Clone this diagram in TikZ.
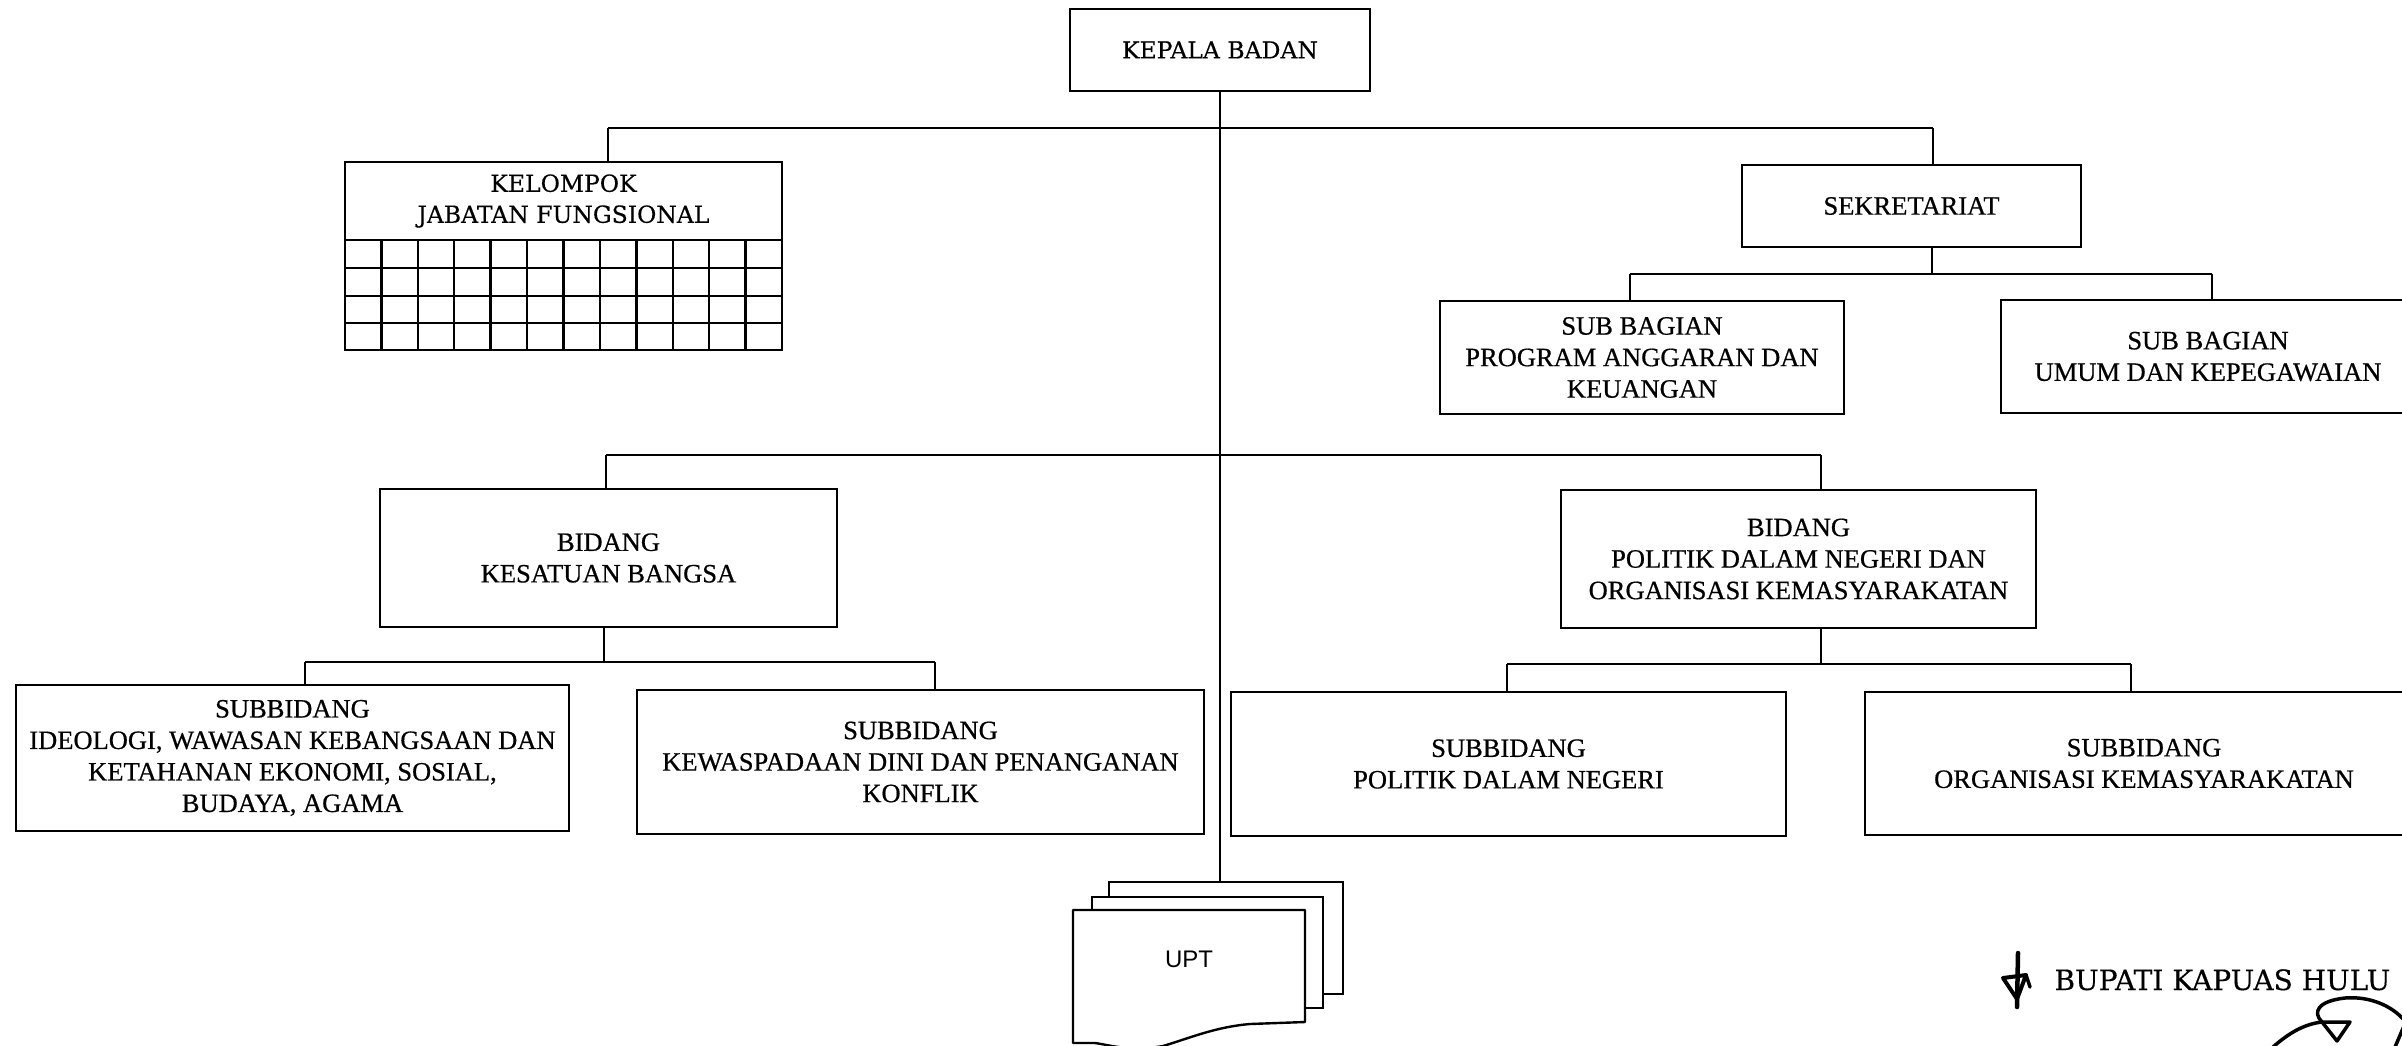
\documentclass[tikz,border=0pt]{standalone}
\usepackage{fontspec}
\setmainfont{Liberation Serif}
\newfontfamily\boxfont{Liberation Serif}[FakeBold=0.6]
\newfontfamily\headfont{DejaVu Serif}[FakeBold=0.4]
\newfontfamily\uptfont{Liberation Sans}
\begin{document}
\begin{tikzpicture}[x=1pt,y=-1pt,
  box/.style={draw, line width=2.6pt, rectangle, align=center, inner sep=0pt,
    font=\boxfont\fontsize{26.5}{31.5}\selectfont},
  headbox/.style={box, font=\headfont\fontsize{23.5}{31}\selectfont},
  conn/.style={line width=2.4pt},
  gridline/.style={line width=2.4pt},
  page/.style={draw, fill=white, line width=2.4pt, rectangle, inner sep=0pt}]
\useasboundingbox (0,0) rectangle (2402,1045);
\clip (0,0) rectangle (2402,1045);

% top
\node[headbox, minimum width=300, minimum height=82] (kb) at (1220,50) {KEPALA BADAN};

% kelompok jabatan fungsional
\node[headbox, minimum width=437, minimum height=78] (kjf) at (563.5,201) {KELOMPOK\\JABATAN FUNGSIONAL};
\draw[gridline] (345,240) rectangle (782,350);
\foreach \i in {1,...,11} \draw[gridline] ({345+\i*36.42},240) -- ({345+\i*36.42},350);
\foreach \yy in {268,296,323} \draw[gridline] (345,\yy) -- (782,\yy);

% sekretariat
\node[box, minimum width=339, minimum height=82] (sek) at (1911.5,206) {SEKRETARIAT};
\node[box, minimum width=404, minimum height=113] (sbp) at (1642,357.5) {SUB BAGIAN\\PROGRAM ANGGARAN DAN\\KEUANGAN};
\node[box, minimum width=414, minimum height=113] (sbu) at (2208,356.5) {SUB BAGIAN\\UMUM DAN KEPEGAWAIAN};

% bidang
\node[box, minimum width=457, minimum height=138] (bks) at (608.5,558) {BIDANG\\KESATUAN BANGSA};
\node[box, minimum width=475, minimum height=138] (bpol) at (1798.5,559) {BIDANG\\POLITIK DALAM NEGERI DAN\\ORGANISASI KEMASYARAKATAN};

% subbidang
\node[box, minimum width=553, minimum height=146] (sb1) at (292.5,758) {SUBBIDANG\\IDEOLOGI, WAWASAN KEBANGSAAN DAN\\KETAHANAN EKONOMI, SOSIAL,\\BUDAYA, AGAMA};
\node[box, minimum width=567, minimum height=144] (sb2) at (920.5,762) {SUBBIDANG\\KEWASPADAAN DINI DAN PENANGANAN\\KONFLIK};
\node[box, minimum width=555, minimum height=144] (sb3) at (1508.5,764) {SUBBIDANG\\POLITIK DALAM NEGERI};
\node[box, minimum width=558, minimum height=143] (sb4) at (2144,763.5) {SUBBIDANG\\ORGANISASI KEMASYARAKATAN};

% UPT stack
\node[page, minimum width=234, minimum height=112] (upt3) at (1226,938) {};
\node[page, minimum width=231, minimum height=111] (upt2) at (1207.5,952.5) {};
\draw[fill=white, line width=2.4pt, line join=round] (1073,910) -- (1305,910) -- (1305,1022)
  -- (1250,1024) .. controls (1215,1027) and (1190,1038) .. (1163,1046)
  .. controls (1130,1052) and (1110,1045) .. (1095,1043) -- (1073,1043) -- cycle;
\node[font=\uptfont\fontsize{24}{28}\selectfont] (upt) at (1189,959) {UPT};

% connectors
\coordinate (t1) at (608,128);
\coordinate (t2) at (1933,128);
\draw[conn] (kb.south) -- (kb.south |- upt3.north);
\draw[conn] (t1) -- (t2);
\draw[conn] (t1) -- (t1 |- kjf.north);
\draw[conn] (t2) -- (t2 |- sek.north);

\coordinate (s0) at (1932,274);
\coordinate (s1) at (1630,274);
\coordinate (s2) at (2212,274);
\draw[conn] (s0 |- sek.south) -- (s0);
\draw[conn] (s1) -- (s2);
\draw[conn] (s1) -- (s1 |- sbp.north);
\draw[conn] (s2) -- (s2 |- sbu.north);

\coordinate (m1) at (606,455);
\coordinate (m2) at (1821,455);
\draw[conn] (m1) -- (m2);
\draw[conn] (m1) -- (m1 |- bks.north);
\draw[conn] (m2) -- (m2 |- bpol.north);

\coordinate (l0) at (604,662);
\coordinate (l1) at (305,662);
\coordinate (l2) at (935,662);
\draw[conn] (l0 |- bks.south) -- (l0);
\draw[conn] (l1) -- (l2);
\draw[conn] (l1) -- (l1 |- sb1.north);
\draw[conn] (l2) -- (l2 |- sb2.north);

\coordinate (r0) at (1821,664);
\coordinate (r1) at (1507,664);
\coordinate (r2) at (2131,664);
\draw[conn] (r0 |- bpol.south) -- (r0);
\draw[conn] (r1) -- (r2);
\draw[conn] (r1) -- (r1 |- sb3.north);
\draw[conn] (r2) -- (r2 |- sb4.north);

% signature
\node[anchor=base west, font=\headfont\fontsize{28}{32}\selectfont] (bupati) at (2051,990) {BUPATI KAPUAS HULU};
\draw[line width=4.5pt, line cap=round] (2018,953) -- (2017,1007);
\draw[line width=4pt, line join=round, line cap=round] (2003,978) -- (2026,975) -- (2017,999) -- cycle;
\draw[line width=3.5pt, line cap=round] (2026,975) -- (2030,987);

% stamp fragment
\draw[line width=3.5pt] (2273,1047) .. controls (2290,1032) and (2305,1024) .. (2322,1022);
\draw[line width=3.5pt] (2322,1022) .. controls (2312,1012) and (2318,1001) .. (2345,998)
  .. controls (2370,996) and (2392,1006) .. (2404,1020);
\draw[line width=3.5pt, line join=round] (2322,1022) -- (2350,1022) -- (2337,1041) -- cycle;
\draw[line width=3.5pt] (2404,1026) -- (2395,1047);
\end{tikzpicture}
\end{document}
